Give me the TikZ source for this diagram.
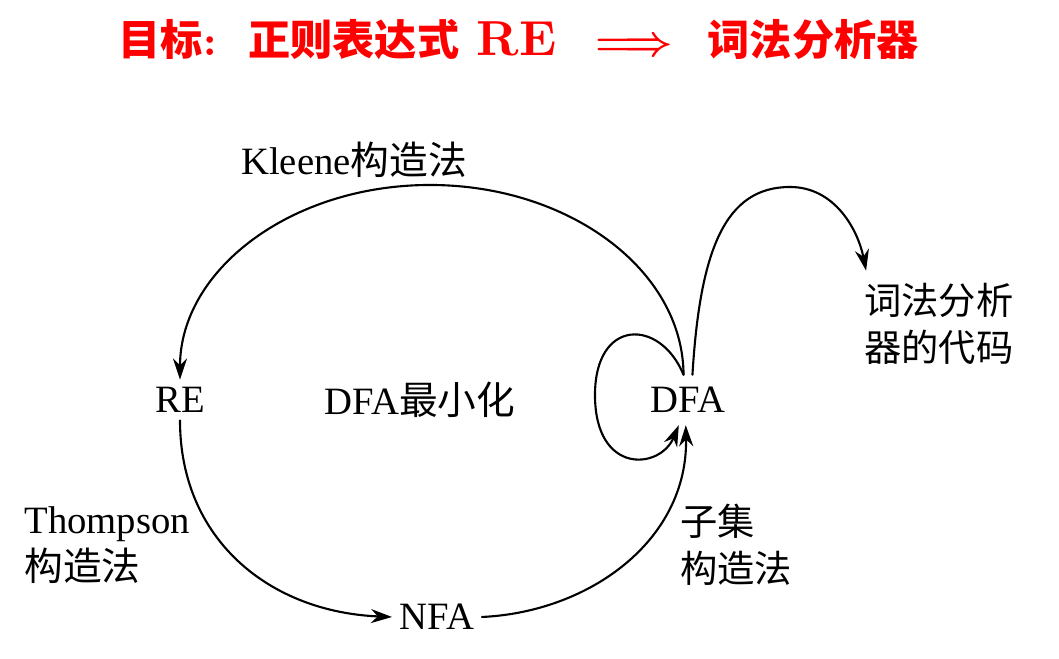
\documentclass[tikz,border=0pt]{standalone}
\usepackage{fontspec}
\setmainfont{Liberation Serif}
\newfontfamily\cjk{Noto Sans CJK SC}
\newfontfamily\lmrbf{lmroman10-bold.otf}
\usetikzlibrary{arrows.meta}
\begin{document}
\begin{tikzpicture}[x=0.01cm,y=-0.01cm,line cap=round,
    lbl/.style={font=\fontsize{11}{13.5}\selectfont},
    cjklbl/.style={font=\fontsize{10.6}{13.5}\selectfont\cjk},
    arr/.style={semithick,-{Stealth[length=6pt,width=4pt]}}]
  \useasboundingbox (0,0) rectangle (1059,659);
  % title
  \node[anchor=west,inner sep=0pt,text=red,font=\fontsize{12}{15}\selectfont\bfseries\mathversion{bold}] (title) at (118,40)
    {{\cjk 目标}{\lmrbf:}\hspace{9pt}{\cjk 正则表达式}\hspace{5pt}{\lmrbf\fontsize{14}{15}\selectfont RE}\hspace{11pt}$\Longrightarrow$\hspace{10pt}{\cjk 词法分析器}};
  % nodes
  \node[lbl,inner sep=2pt] (re) at (180,400) {RE};
  \node[lbl] (min) at (420,400) {DFA{\cjk 最小化}};
  \node[lbl] (dfa) at (688,400) {DFA};
  \node[lbl,inner sep=2pt] (nfa) at (437,617) {NFA};
  \node[cjklbl,align=left] (code) at (939,324) {词法分析\\器的代码};
  % labels
  \node[lbl] (kleene) at (354,160) {Kleene{\cjk 构造法}};
  \node[lbl,align=left,anchor=west] (thompson) at (12,545) {Thompson\\{\cjk 构造法}};
  \node[cjklbl,align=left,anchor=west] (subset) at (668,545) {子集\\构造法};
  % Kleene: DFA -> RE
  \draw[arr] (dfa.100) .. controls (683,270) and (569,185) .. (430,185)
    .. controls (291,185) and (180,270) .. (re.north);
  % Thompson: RE -> NFA
  \draw[arr] (re.south) .. controls (180,540) and (270,612) .. (nfa.west);
  % subset construction: NFA -> DFA
  \draw[arr] (nfa.east) .. controls (590,612) and (688,540) .. (dfa.265);
  % minimisation loop
  \draw[arr] (dfa.100) .. controls (660,318) and (595,318) .. (595,395)
    .. controls (595,475) and (660,470) .. (dfa.250);
  % DFA -> code
  \draw[arr] (dfa.80) .. controls (700,250) and (725,187) .. (790,187)
    .. controls (835,187) and (858,230) .. ([xshift=4pt]code.north west);
\end{tikzpicture}
\end{document}
